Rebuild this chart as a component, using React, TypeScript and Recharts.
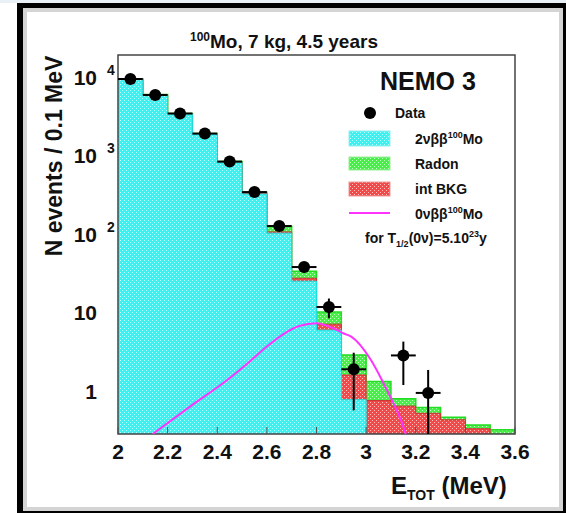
import React from 'react'
import { ComposedChart, Area, Line, Scatter, ErrorBar, XAxis, YAxis, ReferenceArea } from 'recharts'

// bin left edges (0.1 MeV bins)
const BIN_EDGES = [2.0, 2.1, 2.2, 2.3, 2.4, 2.5, 2.6, 2.7, 2.8, 2.9, 3.0, 3.1, 3.2, 3.3, 3.4, 3.5]
const BIN_END = 3.6
const TWO_NU = [9900, 6200, 3550, 1950, 850, 340, 108, 26.4, 6.3, 0.82, 0.05, 0.01, 0.01, 0.01, 0.01, 0.01]
const INT_BKG = [40, 30, 25, 20, 12, 6, 4, 2.4, 1.2, 0.87, 0.75, 0.67, 0.54, 0.445, 0.34, 0.02]
const RADON = [60, 50, 35, 30, 20, 12, 20, 6.6, 3.2, 1.35, 0.6, 0.16, 0.1, 0.035, 0.04, 0.31]

// data points
const DATA_E = [2.05, 2.15, 2.25, 2.35, 2.45, 2.55, 2.65, 2.75, 2.85, 2.95, 3.15, 3.25]
const DATA_N = [9900, 6200, 3600, 2000, 880, 360, 133, 40, 12.4, 2, 3, 1]
const ERR_LO = [99, 79, 60, 45, 30, 19, 11.5, 6.3, 3.5, 1.4, 1.74, 0.7]
const ERR_HI = [99, 79, 60, 45, 30, 19, 11.5, 6.3, 3.5, 1.25, 1.5, 0.96]

// 0vbb signal curve
const SIG_E = [2.14, 2.29, 2.44, 2.53, 2.6, 2.67, 2.73, 2.8, 2.87, 2.91, 2.94, 3.02, 3.07, 3.11, 3.14, 3.16]
const SIG_N = [0.3, 0.67, 1.46, 2.5, 3.9, 5.7, 7.1, 7.7, 6.6, 5.7, 5.2, 2.6, 1.33, 0.74, 0.45, 0.3]

const X_TICKS = [2, 2.2, 2.4, 2.6, 2.8, 3, 3.2, 3.4, 3.6]
const Y_TICKS = [1, 10, 100, 1000, 10000]

const FONT = '"Liberation Sans", Arial, Helvetica, sans-serif'

const histo = [...BIN_EDGES, BIN_END].map((x, i) => {
  const k = Math.min(i, BIN_EDGES.length - 1)
  return {
    x,
    cyan: TWO_NU[k],
    red: TWO_NU[k] + INT_BKG[k],
    green: TWO_NU[k] + INT_BKG[k] + RADON[k],
  }
})
const points = DATA_E.map((x, i) => ({ x, n: DATA_N[i], ey: [ERR_LO[i], ERR_HI[i]], ex: 0.05 }))
const signal = SIG_E.map((x, i) => ({ x, v: SIG_N[i] }))

const XTick = (p: any) => (
  <g>
    <line x1={p.x} x2={p.x} y1={p.y} y2={p.y - 7} stroke="#555" />
    <text x={p.x} y={p.y + 25} textAnchor="middle" fontFamily={FONT} fontWeight="bold" fontSize={21} fill="#111">
      {String(Number(p.payload.value.toFixed(1)))}
    </text>
  </g>
)

const YTick = (p: any) => {
  const v = p.payload.value
  const exp = Math.round(Math.log10(v))
  return (
    <g fontFamily={FONT} fontWeight="bold" fill="#111">
      <text x={p.x - 21} y={p.y + 6} textAnchor="end" fontSize={21}>{v === 1 ? '1' : '10'}</text>
      {exp > 1 && <text x={p.x - 11} y={p.y - 4} fontSize={14}>{exp}</text>}
    </g>
  )
}

const Dot = (p: any) => <circle cx={p.cx} cy={p.cy} r={6} fill="#000" />

const Patterns = () => (
  <svg width={0} height={0} style={{ position: 'absolute' }}>
    <defs>
      <pattern id="patCyan" width={4} height={4} patternUnits="userSpaceOnUse">
        <rect width={4} height={4} fill="#3ff0f0" />
        <rect x={0} y={0} width={1} height={1} fill="#b8ffff" />
        <rect x={2} y={2} width={1} height={1} fill="#b8ffff" />
      </pattern>
      <pattern id="patGreen" width={4} height={4} patternUnits="userSpaceOnUse">
        <rect width={4} height={4} fill="#4aee4a" />
        <rect x={0} y={0} width={1} height={1} fill="#c4ffc4" />
        <rect x={2} y={2} width={1} height={1} fill="#c4ffc4" />
      </pattern>
      <pattern id="patRed" width={4} height={4} patternUnits="userSpaceOnUse">
        <rect width={4} height={4} fill="#f04a4a" />
        <rect x={0} y={0} width={1} height={1} fill="#ffc0c0" />
        <rect x={2} y={2} width={1} height={1} fill="#ffc0c0" />
      </pattern>
    </defs>
  </svg>
)

const Overlay = () => (
  <svg width={566} height={513} style={{ position: 'absolute', left: 0, top: 0, pointerEvents: 'none' }}
    fontFamily={FONT} fontWeight="bold" fill="#111">
    <text x={284} y={48} textAnchor="middle" fontSize={19}>
      <tspan fontSize={12} dy={-7}>100</tspan><tspan dy={7}>Mo, 7 kg, 4.5 years</tspan>
    </text>
    <text x={54} y={156} textAnchor="middle" fontSize={23} transform="rotate(-90 54 156)" dominantBaseline="central">
      N events / 0.1 MeV
    </text>
    <text x={391} y={494} fontSize={24}>
      E<tspan fontSize={14} dy={6}>TOT</tspan><tspan dy={-6}> (MeV)</tspan>
    </text>
    <text x={428} y={90} textAnchor="middle" fontSize={25}>NEMO 3</text>

    <circle cx={370} cy={113} r={6} fill="#000" />
    <text x={395} y={118} fontSize={14}>Data</text>
    <rect x={349} y={131} width={41} height={15} fill="url(#patCyan)" stroke="#9ee" />
    <text x={415} y={144} fontSize={14}>2νββ<tspan fontSize={9} dy={-6}>100</tspan><tspan dy={6}>Mo</tspan></text>
    <rect x={349} y={157} width={41} height={13} fill="url(#patGreen)" stroke="#9e9" />
    <text x={415} y={169} fontSize={14}>Radon</text>
    <rect x={349} y={182} width={41} height={14} fill="url(#patRed)" stroke="#e99" />
    <text x={415} y={194} fontSize={14}>int BKG</text>
    <line x1={349} x2={390} y1={213} y2={213} stroke="#ff33ff" strokeWidth={2} />
    <text x={415} y={219} fontSize={14}>0νββ<tspan fontSize={9} dy={-6}>100</tspan><tspan dy={6}>Mo</tspan></text>
    <text x={365} y={243} fontSize={14}>
      for T<tspan fontSize={9} dy={4}>1/2</tspan><tspan dy={-4}>(0ν)=5.10</tspan><tspan fontSize={9} dy={-6}>23</tspan><tspan dy={6}>y</tspan>
    </text>
  </svg>
)

export default function App() {
  return (
    <div style={{ position: 'absolute', left: 0, top: 0, width: 566, height: 513, background: '#fff', overflow: 'hidden' }}>
      <Patterns />
      <div style={{ position: 'absolute', left: 0, top: 0, width: 566, height: 3, background: '#eaf1f6' }} />
      <div style={{ position: 'absolute', left: 17, top: 3, width: 551, height: 513, boxSizing: 'border-box',
        border: '5px solid #000', borderLeftWidth: 6 }}>
        <div style={{ position: 'absolute', inset: 0, border: '4px solid #d4d4d4' }} />
      </div>
      <div style={{ position: 'absolute', left: 0, top: 0 }}>
        <ComposedChart width={566} height={513} margin={{ top: 55, right: 51, bottom: 39, left: 58 }}>
          <XAxis type="number" dataKey="x" domain={[2, 3.6]} ticks={X_TICKS} allowDataOverflow
            height={40} tickSize={0} tickMargin={0} axisLine={false} tick={<XTick />} interval={0} />
          <YAxis type="number" scale="log" domain={[0.3, 20000]} ticks={Y_TICKS} allowDataOverflow
            width={60} tickSize={0} tickMargin={0} axisLine={false} tick={<YTick />} interval={0} />
          <Area data={histo} dataKey="green" type="stepAfter" fill="url(#patGreen)" fillOpacity={1}
            stroke="#22dd22" strokeWidth={1.5} isAnimationActive={false} dot={false} activeDot={false} />
          <Area data={histo} dataKey="red" type="stepAfter" fill="url(#patRed)" fillOpacity={1}
            stroke="#cc3333" strokeWidth={1} isAnimationActive={false} dot={false} activeDot={false} />
          <Area data={histo} dataKey="cyan" type="stepAfter" fill="url(#patCyan)" fillOpacity={1}
            stroke="#22dddd" strokeWidth={1} isAnimationActive={false} dot={false} activeDot={false} />
          <Line data={signal} dataKey="v" type="monotone" stroke="#ff33ff" strokeWidth={2}
            dot={false} activeDot={false} isAnimationActive={false} />
          <Scatter data={points} dataKey="n" shape={<Dot />} isAnimationActive={false}>
            <ErrorBar dataKey="ey" direction="y" width={0} stroke="#000" strokeWidth={2} isAnimationActive={false} />
            <ErrorBar dataKey="ex" direction="x" width={0} stroke="#000" strokeWidth={2} isAnimationActive={false} />
          </Scatter>
          <ReferenceArea x1={2} x2={3.6} y1={0.3} y2={20000} fill="none" stroke="#444" strokeWidth={1.5}
            ifOverflow="visible" />
        </ComposedChart>
      </div>
      <Overlay />
    </div>
  )
}
